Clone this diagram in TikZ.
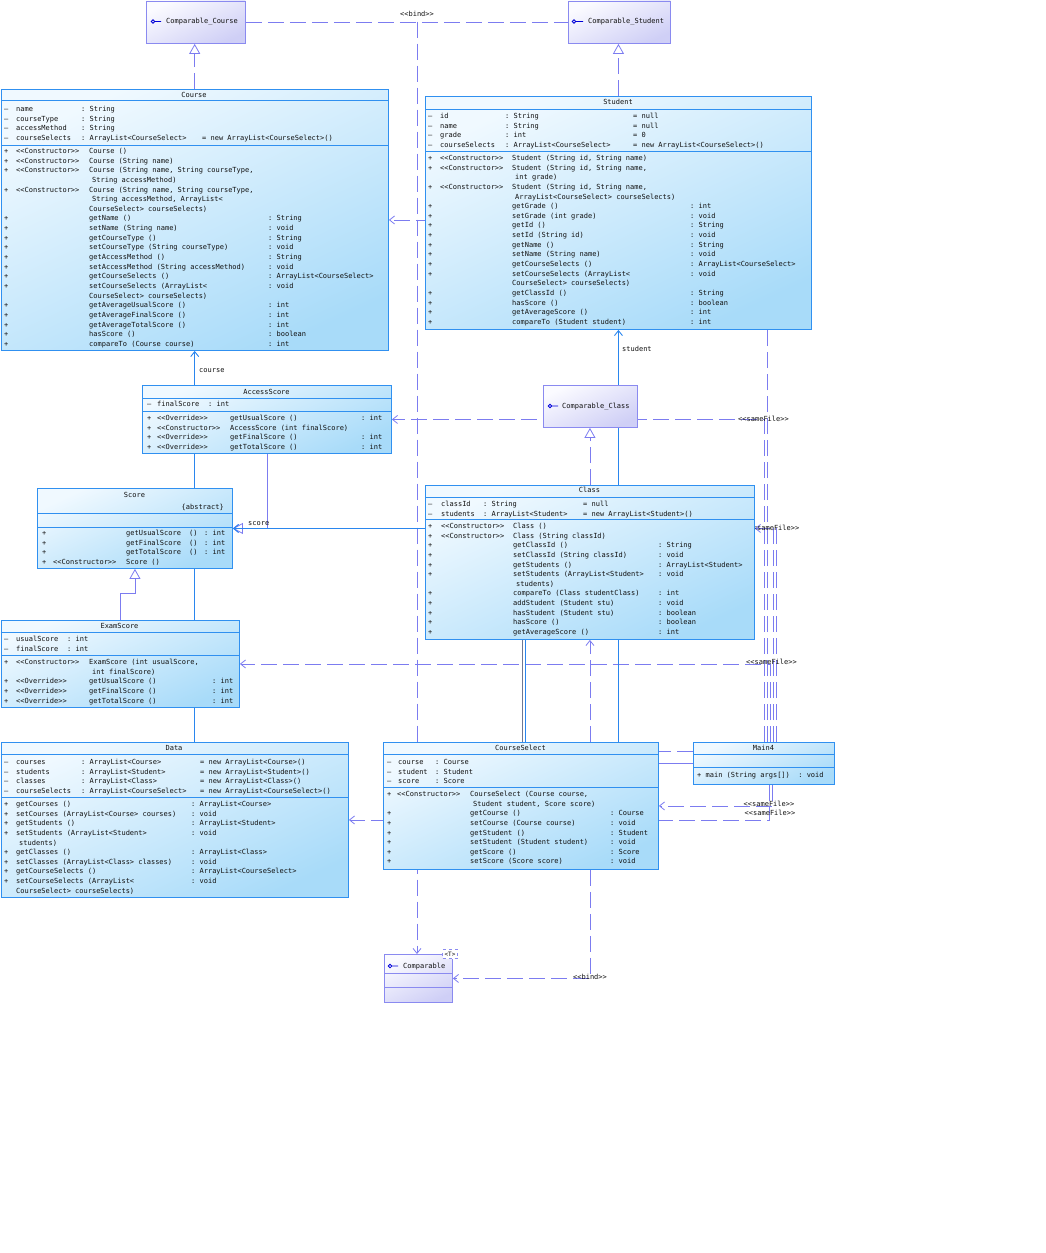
\documentclass[tikz,border=0pt]{standalone}
\usepackage{fontspec}
\setmonofont{DejaVu Sans Mono}
\usepackage{array}
\usepackage{tikz}
\usetikzlibrary{arrows.meta,positioning,backgrounds}

\newcolumntype{W}[1]{@{}>{\hbox to #1\bgroup}l<{\hfil\egroup}@{}}
\newcommand{\vpriv}{–}

\definecolor{clsedge}{HTML}{3090F0}
\definecolor{clstop}{HTML}{F0F9FF}
\definecolor{clsbot}{HTML}{A8DBF9}
\definecolor{ifcedge}{HTML}{8A8AF0}
\definecolor{ifctop}{HTML}{FBFBFF}
\definecolor{ifcbot}{HTML}{CFCFF6}
\definecolor{lnklav}{HTML}{7C7CF0}
\definecolor{lnkblue}{HTML}{2A86EE}
\definecolor{lnkgray}{HTML}{6E7894}
\definecolor{txtdark}{HTML}{111111}

\tikzset{
  clsbox/.style={draw=clsedge, line width=0.9pt, top color=clstop, bottom color=clsbot, shading angle=25, anchor=north west, inner sep=0pt},
  ifcbox/.style={draw=ifcedge, line width=0.9pt, top color=ifctop, bottom color=ifcbot, shading angle=25, anchor=north west, inner sep=0pt},
  umlfont/.style={font=\fontsize{7}{9.65}\selectfont\ttfamily, text=txtdark},
  ttl/.style={umlfont, anchor=base, inner sep=0pt},
  rows/.style={umlfont, anchor=base west, inner sep=0pt},
  lbl/.style={umlfont, anchor=base, inner sep=0pt},
  sepline/.style={draw=clsedge, line width=0.9pt},
  ifcsep/.style={draw=ifcedge, line width=0.9pt},
  icon/.style={draw=blue!85!black, line width=0.8pt},
  dep/.style={draw=lnklav, line width=0.8pt, dash pattern=on 16pt off 6pt},
  real/.style={dep, -{Triangle[open,length=10pt,width=11pt]}},
  gen/.style={draw=lnklav, line width=0.8pt, -{Triangle[open,length=10pt,width=11pt]}},
  assoc/.style={draw=lnkblue, line width=0.9pt},
  barb/.style={-{Straight Barb[length=5pt,width=8pt]}},
}

\begin{document}
\begin{tikzpicture}[x=1pt,y=-1pt]
\useasboundingbox (0,0) rectangle (1045,1253);

% interfaces
\node[ifcbox, minimum width=99pt, minimum height=42.5pt] (ccourse) at (146,0.5) {};
\draw[icon] (155,21.5) -- (161,21.5) (153,21.5) circle (1.8pt);
\node[rows] (ccourse-name) at (166,23.9) {Comparable\_Course};

\node[ifcbox, minimum width=102pt, minimum height=42.5pt] (cstudent) at (568,0.5) {};
\draw[icon] (576,21.5) -- (583,21.5) (574,21.5) circle (1.8pt);
\node[rows] (cstudent-name) at (588,23.9) {Comparable\_Student};

\node[ifcbox, minimum width=94pt, minimum height=42pt] (cclass) at (543,385) {};
\draw[icon] (552,406) -- (558,406) (550,406) circle (1.8pt);
\node[rows] (cclass-name) at (562,408.4) {Comparable\_Class};

\node[ifcbox, minimum width=68pt, minimum height=48pt] (comparable) at (384,954) {};
\draw[icon] (392,966) -- (398,966) (390,966) circle (1.8pt);
\node[rows] (comparable-name) at (403,968.4) {Comparable};
\draw[ifcsep] (384,973) -- (452,973);
\draw[ifcsep] (384,987) -- (452,987);
\node[draw=ifcedge, dashed, fill=white, inner sep=0.5pt, minimum width=15pt, minimum height=9pt,
      font=\fontsize{6}{7}\selectfont\ttfamily, text=txtdark] (tparam) at (450,954) {<T>};

% Course
\node[clsbox, minimum width=387.5pt, minimum height=261pt] (course) at (0.5,89) {};
\node[ttl] (course-t) at (194,97.4) {Course};
\draw[sepline] (0.5,100) -- (388,100);
\draw[sepline] (0.5,145) -- (388,145);
\node[rows] (course-attr) at (4,111.4) {\begin{tabular}[t]{W{12pt}W{65pt}W{121pt}l}
\vpriv & name & : String & \\
\vpriv & courseType & : String & \\
\vpriv & accessMethod & : String & \\
\vpriv & courseSelects & : ArrayList<CourseSelect> & = new ArrayList<CourseSelect>()
\end{tabular}};
\node[rows] (course-ops) at (4,153.4) {\begin{tabular}[t]{W{12pt}W{73pt}W{179pt}l}
+ & <<Constructor>> & Course () & \\
+ & <<Constructor>> & Course (String name) & \\
+ & <<Constructor>> & Course (String name, String courseType, & \\
  & & \hspace{3pt}String accessMethod) & \\
+ & <<Constructor>> & Course (String name, String courseType, & \\
  & & \hspace{3pt}String accessMethod, ArrayList< & \\
  & & CourseSelect> courseSelects) & \\
+ & & getName () & : String \\
+ & & setName (String name) & : void \\
+ & & getCourseType () & : String \\
+ & & setCourseType (String courseType) & : void \\
+ & & getAccessMethod () & : String \\
+ & & setAccessMethod (String accessMethod) & : void \\
+ & & getCourseSelects () & : ArrayList<CourseSelect> \\
+ & & setCourseSelects (ArrayList< & : void \\
  & & CourseSelect> courseSelects) & \\
+ & & getAverageUsualScore () & : int \\
+ & & getAverageFinalScore () & : int \\
+ & & getAverageTotalScore () & : int \\
+ & & hasScore () & : boolean \\
+ & & compareTo (Course course) & : int
\end{tabular}};

% Student
\node[clsbox, minimum width=386pt, minimum height=233pt] (student) at (425,96) {};
\node[ttl] (student-t) at (618,104.4) {Student};
\draw[sepline] (425,109) -- (811,109);
\draw[sepline] (425,151) -- (811,151);
\node[rows] (student-attr) at (428,118.4) {\begin{tabular}[t]{W{12pt}W{65pt}W{128pt}l}
\vpriv & id & : String & = null \\
\vpriv & name & : String & = null \\
\vpriv & grade & : int & = 0 \\
\vpriv & courseSelects & : ArrayList<CourseSelect> & = new ArrayList<CourseSelect>()
\end{tabular}};
\node[rows] (student-ops) at (428,160.4) {\begin{tabular}[t]{W{12pt}W{72pt}W{178pt}l}
+ & <<Constructor>> & Student (String id, String name) & \\
+ & <<Constructor>> & Student (String id, String name, & \\
  & & \hspace{3pt}int grade) & \\
+ & <<Constructor>> & Student (String id, String name, & \\
  & & \hspace{3pt}ArrayList<CourseSelect> courseSelects) & \\
+ & & getGrade () & : int \\
+ & & setGrade (int grade) & : void \\
+ & & getId () & : String \\
+ & & setId (String id) & : void \\
+ & & getName () & : String \\
+ & & setName (String name) & : void \\
+ & & getCourseSelects () & : ArrayList<CourseSelect> \\
+ & & setCourseSelects (ArrayList< & : void \\
  & & CourseSelect> courseSelects) & \\
+ & & getClassId () & : String \\
+ & & hasScore () & : boolean \\
+ & & getAverageScore () & : int \\
+ & & compareTo (Student student) & : int
\end{tabular}};

% AccessScore
\node[clsbox, minimum width=249pt, minimum height=68pt] (accessscore) at (142,385) {};
\node[ttl] (accessscore-t) at (266.5,394.4) {AccessScore};
\draw[sepline] (142,398) -- (391,398);
\draw[sepline] (142,411) -- (391,411);
\node[rows] (accessscore-attr) at (147,406.4) {\begin{tabular}[t]{W{10pt}W{51pt}l}
\vpriv & finalScore & : int
\end{tabular}};
\node[rows] (accessscore-ops) at (147,420.4) {\begin{tabular}[t]{W{10pt}W{73pt}W{131pt}l}
+ & <<Override>> & getUsualScore () & : int \\
+ & <<Constructor>> & AccessScore (int finalScore) & \\
+ & <<Override>> & getFinalScore () & : int \\
+ & <<Override>> & getTotalScore () & : int
\end{tabular}};

% Score
\node[clsbox, minimum width=195pt, minimum height=80pt] (score) at (37,488) {};
\node[ttl] (score-t) at (134.5,497.4) {Score};
\node[umlfont, anchor=base east, inner sep=0pt] (score-abs) at (224,509.4) {\{abstract\}};
\draw[sepline] (37,513) -- (232,513);
\draw[sepline] (37,527) -- (232,527);
\node[rows] (score-ops) at (42,535.4) {\begin{tabular}[t]{W{11pt}W{73pt}W{63pt}W{15pt}l}
+ & & getUsualScore & () & : int \\
+ & & getFinalScore & () & : int \\
+ & & getTotalScore & () & : int \\
+ & <<Constructor>> & Score () & &
\end{tabular}};

% ExamScore
\node[clsbox, minimum width=238.5pt, minimum height=87pt] (examscore) at (0.5,620) {};
\node[ttl] (examscore-t) at (119.5,628.4) {ExamScore};
\draw[sepline] (0.5,632) -- (239,632);
\draw[sepline] (0.5,655) -- (239,655);
\node[rows] (examscore-attr) at (4,641.4) {\begin{tabular}[t]{W{12pt}W{51pt}l}
\vpriv & usualScore & : int \\
\vpriv & finalScore & : int
\end{tabular}};
\node[rows] (examscore-ops) at (4,664.4) {\begin{tabular}[t]{W{12pt}W{73pt}W{123pt}l}
+ & <<Constructor>> & ExamScore (int usualScore, & \\
  & & \hspace{3pt}int finalScore) & \\
+ & <<Override>> & getUsualScore () & : int \\
+ & <<Override>> & getFinalScore () & : int \\
+ & <<Override>> & getTotalScore () & : int
\end{tabular}};

% Class
\node[clsbox, minimum width=329pt, minimum height=154pt] (class) at (425,485) {};
\node[ttl] (class-t) at (589.5,492.4) {Class};
\draw[sepline] (425,497) -- (754,497);
\draw[sepline] (425,519) -- (754,519);
\node[rows] (class-attr) at (428,506.4) {\begin{tabular}[t]{W{13pt}W{42pt}W{100pt}l}
\vpriv & classId & : String & = null \\
\vpriv & students & : ArrayList<Student> & = new ArrayList<Student>()
\end{tabular}};
\node[rows] (class-ops) at (428,528.4) {\begin{tabular}[t]{W{13pt}W{72pt}W{145pt}l}
+ & <<Constructor>> & Class () & \\
+ & <<Constructor>> & Class (String classId) & \\
+ & & getClassId () & : String \\
+ & & setClassId (String classId) & : void \\
+ & & getStudents () & : ArrayList<Student> \\
+ & & setStudents (ArrayList<Student> & : void \\
  & & \hspace{3pt}students) & \\
+ & & compareTo (Class studentClass) & : int \\
+ & & addStudent (Student stu) & : void \\
+ & & hasStudent (Student stu) & : boolean \\
+ & & hasScore () & : boolean \\
+ & & getAverageScore () & : int
\end{tabular}};

% Data
\node[clsbox, minimum width=347.5pt, minimum height=155pt] (data) at (0.5,742) {};
\node[ttl] (data-t) at (174,750.4) {Data};
\draw[sepline] (0.5,754) -- (348,754);
\draw[sepline] (0.5,797) -- (348,797);
\node[rows] (data-attr) at (4,764.4) {\begin{tabular}[t]{W{12pt}W{65pt}W{119pt}l}
\vpriv & courses & : ArrayList<Course> & = new ArrayList<Course>() \\
\vpriv & students & : ArrayList<Student> & = new ArrayList<Student>() \\
\vpriv & classes & : ArrayList<Class> & = new ArrayList<Class>() \\
\vpriv & courseSelects & : ArrayList<CourseSelect> & = new ArrayList<CourseSelect>()
\end{tabular}};
\node[rows] (data-ops) at (4,806.4) {\begin{tabular}[t]{W{12pt}W{175pt}l}
+ & getCourses () & : ArrayList<Course> \\
+ & setCourses (ArrayList<Course> courses) & : void \\
+ & getStudents () & : ArrayList<Student> \\
+ & setStudents (ArrayList<Student> & : void \\
  & \hspace{3pt}students) & \\
+ & getClasses () & : ArrayList<Class> \\
+ & setClasses (ArrayList<Class> classes) & : void \\
+ & getCourseSelects () & : ArrayList<CourseSelect> \\
+ & setCourseSelects (ArrayList< & : void \\
  & CourseSelect> courseSelects) &
\end{tabular}};

% CourseSelect
\node[clsbox, minimum width=275pt, minimum height=127pt] (courseselect) at (383,742) {};
\node[ttl] (courseselect-t) at (520.5,750.4) {CourseSelect};
\draw[sepline] (383,754) -- (658,754);
\draw[sepline] (383,787) -- (658,787);
\node[rows] (courseselect-attr) at (387,764.4) {\begin{tabular}[t]{W{11pt}W{37pt}l}
\vpriv & course & : Course \\
\vpriv & student & : Student \\
\vpriv & score & : Score
\end{tabular}};
\node[rows] (courseselect-ops) at (387,796.4) {\begin{tabular}[t]{W{10pt}W{73pt}W{140pt}l}
+ & <<Constructor>> & CourseSelect (Course course, & \\
  & & \hspace{3pt}Student student, Score score) & \\
+ & & getCourse () & : Course \\
+ & & setCourse (Course course) & : void \\
+ & & getStudent () & : Student \\
+ & & setStudent (Student student) & : void \\
+ & & getScore () & : Score \\
+ & & setScore (Score score) & : void
\end{tabular}};

% Main4
\node[clsbox, minimum width=141pt, minimum height=42pt] (main4) at (693,742) {};
\node[ttl] (main4-t) at (763.5,750.4) {Main4};
\draw[sepline] (693,754) -- (834,754);
\draw[sepline] (693,767) -- (834,767);
\node[rows] (main4-ops) at (697,777.4) {+ main (String args[])\ \ : void};

\begin{scope}[on background layer]
  \coordinate (bindjoin) at (417,21.5);
  \coordinate (csA) at ([xshift=1.5pt]courseselect.north);
  \coordinate (csB) at ([xshift=4.5pt]courseselect.north);
  \coordinate (mA) at ([xshift=3.5pt]main4.north);
  \coordinate (mC) at ([xshift=6.5pt]main4.north);
  \coordinate (mD) at ([xshift=9.5pt]main4.north);
  \coordinate (mE) at ([xshift=12.5pt]main4.north);
  \coordinate (mF) at ([xshift=8.5pt]main4.south);
  \coordinate (mG) at ([xshift=5.5pt]main4.south);
  \coordinate (m4hi) at ([yshift=12.5pt]main4.west);

  \draw[dep] (ccourse.east) -- (cstudent.west);
  \draw[dep, barb] (bindjoin) -- (bindjoin |- comparable.north);
  \node[lbl] (bind-top) at (417,16.4) {<<bind>>};
  \draw[dep, barb] (class.south |- courseselect.south) |- (comparable.east);
  \node[lbl] (bind-bottom) at (590,979.9) {<<bind>>};

  \draw[real] (course.north) -- (course.north |- ccourse.south);
  \draw[real] (student.north) -- (student.north |- cstudent.south);
  \draw[real] (class.north) -- (class.north |- cclass.south);

  \draw[gen] (accessscore.south) |- (score.east);
  \draw[gen] (examscore.north) -- ++(0,-27) -| (score.south);

  \draw[dep, barb] (mA) |- (course.east);
  \draw[dep, barb] (main4.north) |- (accessscore.east);
  \node[lbl] (sf-access) at (763.5,421.4) {<<sameFile>>};
  \draw[dep, barb] (mD) |- (score.east);
  \draw[dep, barb] (mE) |- (class.east |- score.east);
  \node[lbl] (sf-class) at (774,530.4) {<<sameFile>>};
  \draw[dep, barb] (mC) |- (examscore.east);
  \node[lbl] (sf-exam) at (771.5,664.4) {<<sameFile>>};
  \draw[dep, barb] (mF) |- (courseselect.east);
  \node[lbl] (sf-cs) at (769,806.4) {<<sameFile>>};
  \draw[dep, barb] (mG) |- (data.east);
  \node[lbl] (sf-data) at (770,815.4) {<<sameFile>>};
  \draw[dep] (m4hi) -- (m4hi -| courseselect.east);
  \draw[draw=lnklav, line width=0.8pt] (main4.west) -- (main4.west -| courseselect.east);
  \draw[dep, barb] (class.south |- courseselect.north) -- (class.south);

  \draw[assoc, barb] (course.south |- data.north) -- (course.south);
  \node[umlfont, anchor=base west, inner sep=0pt] (course-role) at (199,372.4) {course};
  \draw[assoc, barb] (student.south |- courseselect.north) -- (student.south);
  \node[umlfont, anchor=base west, inner sep=0pt] (student-role) at (622,351.4) {student};
  \draw[assoc, draw=lnkgray] (csA) -- (csA |- class.south);
  \draw[assoc, barb] (csB) |- (score.east);
  \node[umlfont, anchor=base west, inner sep=0pt] (score-role) at (248,525.4) {score};
\end{scope}
\end{tikzpicture}
\end{document}
